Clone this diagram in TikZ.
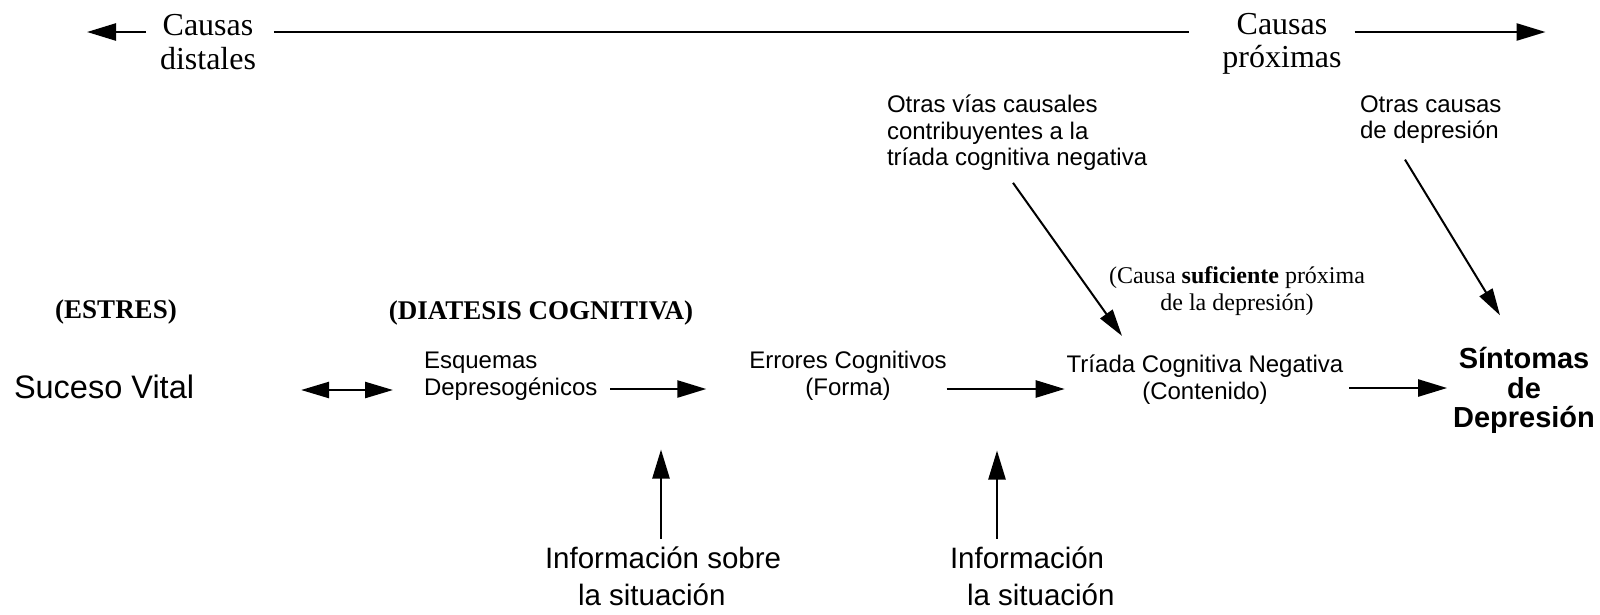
\documentclass[tikz,border=0pt]{standalone}
\usepackage{fontspec}
\setmainfont{Liberation Serif}
\setsansfont{Liberation Sans}
\usetikzlibrary{arrows.meta,calc}
\begin{document}
\begin{tikzpicture}[x=1pt,y=-1pt,
  every node/.style={inner sep=0pt, outer sep=0pt},
  serifbig/.style={font=\fontsize{32}{33.5}\selectfont},
  sanslbl/.style={font=\sffamily\fontsize{24}{26.5}\selectfont},
  boldserif/.style={font=\bfseries\fontsize{27}{29}\selectfont},
  infolbl/.style={font=\sffamily\fontsize{29.5}{37}\selectfont, align=left, anchor=west},
  arr/.style={line width=2.5pt, -{Triangle[length=29pt,width=17pt]}},
  dbl/.style={line width=2.5pt, {Triangle[length=28pt,width=16pt]}-{Triangle[length=28pt,width=16pt]}},
  darr/.style={line width=2pt, -{Triangle[length=27pt,width=15pt]}},
  plainline/.style={line width=2.5pt}
]
\useasboundingbox (0,0) rectangle (1600,614);

% top row
\node[serifbig, align=center] (dist) at (208,42) {Causas\\distales};
\node[serifbig, align=center] (prox) at (1282,44) {Causas\\próximas};
\draw[arr] ($(dist.west)+(-14,-10)$) -- ++(-59,0);
\draw[plainline] ($(dist.east)+(18,-10)$) -- ($(prox.west)+(-33,-12)$);
\draw[arr] ($(prox.east)+(13,-12)$) -- ++(191,0);

% upper labels
\node[sanslbl, align=left, anchor=west] (otras) at (887,133) {Otras vías causales\\contribuyentes a la\\tríada cognitiva negativa};
\node[sanslbl, align=left, anchor=west] (otrasc) at (1360,119.5) {Otras causas\\de depresión};
\node[font=\fontsize{24}{27}\selectfont, align=center] (suf) at (1237,291) {(Causa \textbf{suficiente} próxima\\de la depresión)};
\node[boldserif] (estres) at (116,312) {(ESTRES)};
\node[boldserif] (diat) at (541,313) {(DIATESIS COGNITIVA)};

% middle row
\node[font=\sffamily\fontsize{32.5}{34}\selectfont, anchor=west] (suc) at (14,387) {Suceso Vital};
\node[sanslbl, align=left, anchor=west] (esq) at (424,376) {Esquemas\\Depresogénicos};
\node[sanslbl, align=center] (err) at (848,376) {Errores Cognitivos\\(Forma)};
\node[sanslbl, align=center] (tri) at (1205,379.5) {Tríada Cognitiva Negativa\\(Contenido)};
\node[font=\sffamily\bfseries\fontsize{29}{29.5}\selectfont, align=center] (sin) at (1524,390.5) {Síntomas\\de\\Depresión};

\draw[dbl] ($(suc.east)+(107,3)$) -- ($(esq.west)+(-31,14)$);
\draw[arr] ($(esq.east)+(13,13)$) -- ($(err.west)+(-43,13)$);
\draw[arr] ($(err.east)+(0,13)$) -- ($(tri.west)+(-2,9.5)$);
\draw[arr] ($(tri.east)+(6,8.5)$) -- ($(sin.west)+(-6,-2.5)$);

% diagonal arrows
\draw[darr] ($(otras.south west)+(126,12)$) -- ($(tri.north)+(-83,-19)$);
\draw[darr] ($(otrasc.south west)+(45,16)$) -- ($(sin.north)+(-24,-32)$);

% bottom labels
\node[infolbl] (inf1) at (545,576) {Información sobre\\\hspace*{33pt}la situación};
\node[infolbl] (inf2) at (950,576) {Información\\\hspace*{17pt}la situación};
\draw[arr] ($(inf1.north west)+(116,-8)$) -- ++(0,-89);
\draw[arr] ($(inf2.north west)+(47,-8)$) -- ++(0,-88);
\end{tikzpicture}
\end{document}
